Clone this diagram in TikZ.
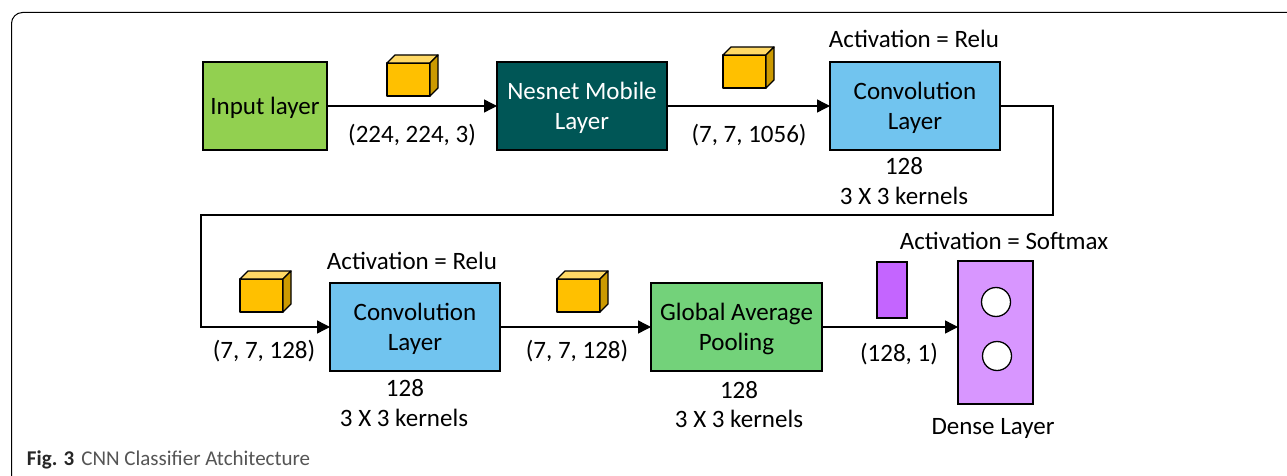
\documentclass[tikz,border=0pt]{standalone}
\usepackage{fontspec}
\setmainfont{Carlito}
\usetikzlibrary{arrows.meta}
\definecolor{inputgreen}{HTML}{92D050}
\definecolor{nesnet}{HTML}{005656}
\definecolor{convblue}{HTML}{71C4EF}
\definecolor{poolgreen}{HTML}{73D27A}
\definecolor{densepurple}{HTML}{D896FF}
\definecolor{vecpurple}{HTML}{C465FF}
\definecolor{cubefront}{HTML}{FFC000}
\definecolor{cubetop}{HTML}{FFD966}
\definecolor{cubeside}{HTML}{CC9A00}
\definecolor{capgrey}{HTML}{555555}
\newcommand{\dn}{\rule{0pt}{21pt}}
\tikzset{
  x=1pt,y=-1pt,
  every node/.style={inner sep=0pt,outer sep=0pt,font=\fontsize{25}{30}\selectfont,align=center},
  layerbox/.style={draw=black,line width=1.4pt,minimum height=88pt,anchor=north west},
  flow/.style={draw=black,line width=1.4pt,line join=miter,-{Triangle[length=13pt,width=13pt]}},
  cubeedge/.style={draw=black,line width=1.3pt,line join=round},
  neuron/.style={draw=black,line width=1.3pt,fill=white,circle,minimum size=29pt},
}
\newcommand{\cubeat}[3]{% name, x0, y0 of front face top-left
  \coordinate (#1) at (#2,#3);
  \path[cubeedge,fill=cubefront] (#2,#3) rectangle ++(43,33);
  \path[cubeedge,fill=cubetop] (#2,#3) -- ++(8,-8) -- ++(43,0) -- ++(-8,8) -- cycle;
  \path[cubeedge,fill=cubeside] (#2+43,#3) -- ++(8,-8) -- ++(0,33) -- ++(-8,8) -- cycle;
}
\begin{document}
\begin{tikzpicture}
\useasboundingbox (0,0) rectangle (1287,476);
\fill[white] (0,0) rectangle (1287,476);
% outer frame, running off the right and bottom edges
\draw[line width=1pt,draw=black,rounded corners=11pt] (11.5,480) -- (11.5,12.5) -- (1295,12.5);
% boxes
\node[layerbox,fill=inputgreen,minimum width=124pt] (input) at (203,62) {\dn Input layer};
\node[layerbox,fill=nesnet,text=white,minimum width=170pt] (nesnet) at (497,62) {\dn Nesnet Mobile\\Layer};
\node[layerbox,fill=convblue,minimum width=170pt] (convA) at (830,62) {\dn Convolution\\Layer};
\node[layerbox,fill=convblue,minimum width=170pt] (convB) at (330,283) {\dn Convolution\\Layer};
\node[layerbox,fill=poolgreen,minimum width=171pt] (pool) at (651,283) {\dn Global Average\\Pooling};
\node[layerbox,fill=densepurple,minimum width=75pt,minimum height=143pt] (dense) at (958,261) {};
\node[neuron] (neuronA) at (996,302) {};
\node[neuron] (neuronB) at (997,356) {};
\node[layerbox,line width=1.3pt,fill=vecpurple,minimum width=30pt,minimum height=56pt] (vec) at (877,262) {};
% cubes
\cubeat{cubeA}{387}{63}
\cubeat{cubeB}{723}{55}
\cubeat{cubeC}{240}{279}
\cubeat{cubeD}{557}{279}
% connectors
\draw[flow] (input.east) -- (nesnet.west);
\draw[flow] (nesnet.east) -- (convA.west);
\coordinate (turnA) at (1053,215);
\coordinate (turnB) at (201,215);
\draw[flow] (convA.east) -| (turnA) -- (turnB) |- (convB.west);
\draw[flow] (convB.east) -- (pool.west);
\draw[flow] (pool.east) -- (dense.west |- pool.east);
% labels
\node (l1) at (412,135) {(224, 224, 3)};
\node (l2) at (749,135) {(7, 7, 1056)};
\node (l3) at (914,38.5) {Activation = Relu};
\node (l4) at (904,166) {128};
\node (l5) at (904,196) {3 X 3 kernels};
\node (l6) at (264,351) {(7, 7, 128)};
\node (l7) at (412,260.5) {Activation = Relu};
\node (l8) at (405,388) {128};
\node (l9) at (404,418) {3 X 3 kernels};
\node (l10) at (577,351) {(7, 7, 128)};
\node (l11) at (739,390) {128};
\node (l12) at (739,419) {3 X 3 kernels};
\node (l13) at (899,354) {(128, 1)};
\node (l14) at (1004,240.5) {Activation = Softmax};
\node (l15) at (993,428.5) {Dense Layer};
\node[anchor=west,font=\fontsize{21}{25}\selectfont,text=capgrey] (cap) at (27,460) {\textbf{\textcolor{black!85}{Fig. 3}}\hspace{7pt}CNN Classifier Atchitecture};
\end{tikzpicture}
\end{document}
